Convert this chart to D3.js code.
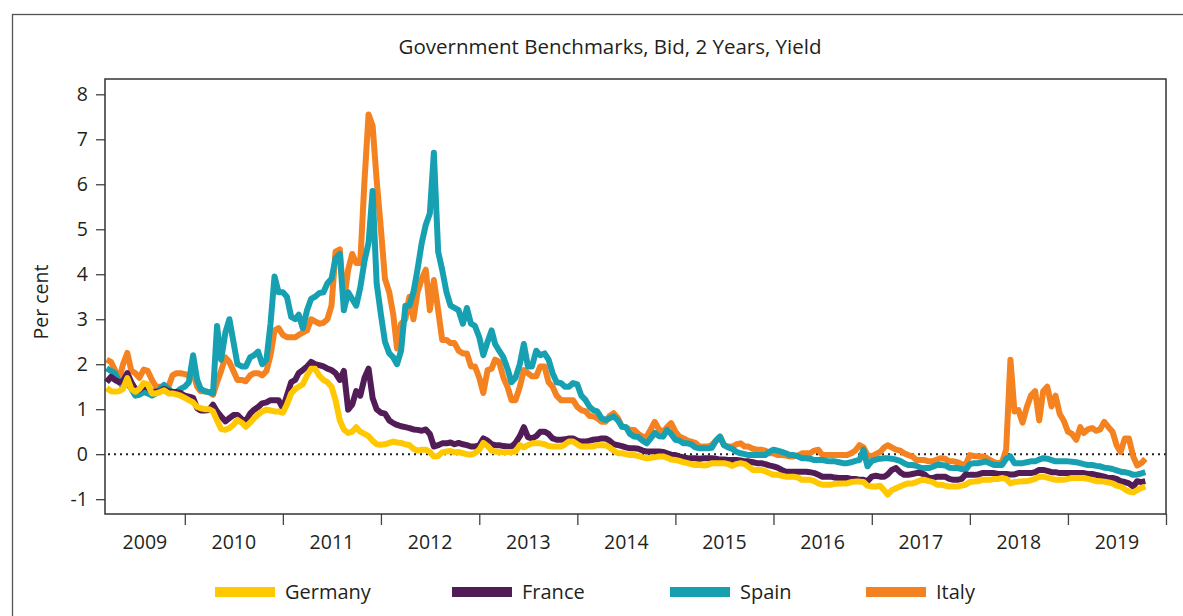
<!DOCTYPE html>
<html>
  <head>
    <meta charset="utf-8">
    <style>
      body { margin: 0; background: #fff; }
      svg text { font-family: "Open Sans", sans-serif; fill: #231f20; }
    </style>
    <script src="https://d3js.org/d3.v7.min.js"></script>
  </head>
  <body>
    <svg></svg>
    <script>
    // --- data: 2-year government benchmark yields (1st and 16th of each month) ---
    var countries = ["Germany", "France", "Spain", "Italy"];
    var colors = ["#ffc800", "#521c57", "#17a0b2", "#f58220"];
    var yearLabels = ["2009", "2010", "2011", "2012", "2013", "2014", "2015", "2016", "2017", "2018", "2019"];

    var germany = [
      1.47, 1.40, 1.39, 1.40, 1.45, 1.69, 1.45, 1.39, 1.45, 1.58, 1.55, 1.35, 1.35, 1.38, 1.42, 1.35, 1.35, 1.33, 1.30,
      1.25, 1.20, 1.15, 1.05, 1.02, 1.00, 1.00, 0.95, 0.75, 0.56, 0.54, 0.58, 0.65, 0.76, 0.70, 0.61, 0.70, 0.80, 0.88, 0.95, 0.99, 0.97, 0.95, 0.95,
      0.92, 1.10, 1.35, 1.45, 1.50, 1.55, 1.75, 1.90, 1.90, 1.75, 1.65, 1.60, 1.50, 1.20, 0.75, 0.55, 0.47, 0.50, 0.60, 0.50, 0.45, 0.40, 0.30, 0.22,
      0.21, 0.22, 0.25, 0.28, 0.26, 0.25, 0.22, 0.20, 0.12, 0.08, 0.10, 0.10, 0.05, -0.05, -0.04, 0.04, 0.06, 0.07, 0.04, 0.05, 0.02, 0.00, -0.01, 0.02,
      0.10, 0.25, 0.18, 0.08, 0.06, 0.05, 0.04, 0.05, 0.05, 0.06, 0.20, 0.15, 0.20, 0.24, 0.24, 0.24, 0.22, 0.18, 0.17, 0.17, 0.17, 0.22, 0.28, 0.28,
      0.22, 0.17, 0.17, 0.17, 0.17, 0.20, 0.20, 0.20, 0.15, 0.08, 0.02, 0.02, 0.00, -0.02, -0.02, -0.04, -0.07, -0.09, -0.08, -0.07, -0.05, -0.05, -0.08, -0.12,
      -0.13, -0.15, -0.18, -0.20, -0.22, -0.24, -0.24, -0.25, -0.24, -0.20, -0.20, -0.20, -0.20, -0.22, -0.26, -0.22, -0.20, -0.22, -0.28, -0.35, -0.35, -0.35, -0.38, -0.42,
      -0.46, -0.46, -0.48, -0.50, -0.50, -0.50, -0.52, -0.57, -0.57, -0.57, -0.60, -0.65, -0.68, -0.68, -0.68, -0.66, -0.65, -0.65, -0.65, -0.62, -0.61, -0.61, -0.62, -0.70,
      -0.72, -0.72, -0.70, -0.80, -0.90, -0.80, -0.76, -0.72, -0.68, -0.65, -0.65, -0.62, -0.58, -0.57, -0.60, -0.62, -0.68, -0.68, -0.70, -0.72, -0.72, -0.72, -0.70, -0.68,
      -0.62, -0.61, -0.60, -0.57, -0.57, -0.57, -0.55, -0.55, -0.53, -0.55, -0.65, -0.62, -0.61, -0.60, -0.60, -0.58, -0.55, -0.50, -0.50, -0.52, -0.55, -0.57, -0.57, -0.57,
      -0.55, -0.53, -0.53, -0.53, -0.53, -0.55, -0.57, -0.60, -0.60, -0.61, -0.63, -0.65, -0.70, -0.72, -0.78, -0.83, -0.85, -0.80, -0.75, -0.72
    ];

    var france = [
      1.60, 1.72, 1.65, 1.60, 1.62, 1.80, 1.60, 1.45, 1.43, 1.50, 1.48, 1.39, 1.39, 1.40, 1.45, 1.40, 1.38, 1.38, 1.36,
      1.30, 1.28, 1.25, 1.02, 0.97, 0.97, 0.98, 1.10, 0.95, 0.84, 0.73, 0.80, 0.87, 0.87, 0.78, 0.73, 0.90, 0.99, 1.05, 1.13, 1.15, 1.20, 1.20, 1.20,
      1.02, 1.30, 1.60, 1.65, 1.80, 1.87, 1.95, 2.05, 2.00, 1.98, 1.95, 1.90, 1.87, 1.80, 1.65, 1.85, 0.99, 1.10, 1.40, 1.30, 1.70, 1.90, 1.25, 1.00,
      0.92, 0.90, 0.75, 0.69, 0.65, 0.62, 0.60, 0.58, 0.55, 0.54, 0.52, 0.55, 0.45, 0.17, 0.20, 0.24, 0.24, 0.26, 0.22, 0.25, 0.22, 0.20, 0.17, 0.17,
      0.20, 0.35, 0.30, 0.22, 0.20, 0.20, 0.18, 0.17, 0.17, 0.25, 0.40, 0.60, 0.38, 0.35, 0.40, 0.50, 0.50, 0.45, 0.35, 0.32, 0.32, 0.33, 0.35, 0.35,
      0.30, 0.28, 0.28, 0.30, 0.32, 0.33, 0.35, 0.35, 0.30, 0.22, 0.20, 0.18, 0.15, 0.13, 0.13, 0.12, 0.08, 0.06, 0.06, 0.06, 0.06, 0.05, 0.02, -0.01,
      -0.02, -0.05, -0.07, -0.09, -0.09, -0.09, -0.10, -0.09, -0.09, -0.09, -0.10, -0.12, -0.12, -0.13, -0.13, -0.13, -0.14, -0.16, -0.16, -0.18, -0.20, -0.20, -0.22, -0.25,
      -0.27, -0.30, -0.35, -0.39, -0.39, -0.39, -0.39, -0.39, -0.39, -0.40, -0.42, -0.46, -0.50, -0.50, -0.50, -0.52, -0.53, -0.53, -0.53, -0.55, -0.55, -0.57, -0.57, -0.60,
      -0.50, -0.48, -0.50, -0.50, -0.45, -0.35, -0.31, -0.40, -0.46, -0.46, -0.44, -0.42, -0.42, -0.45, -0.53, -0.53, -0.50, -0.50, -0.50, -0.55, -0.57, -0.57, -0.55, -0.45,
      -0.46, -0.46, -0.45, -0.42, -0.42, -0.42, -0.42, -0.44, -0.44, -0.44, -0.45, -0.45, -0.42, -0.42, -0.42, -0.42, -0.40, -0.35, -0.35, -0.37, -0.40, -0.40, -0.42, -0.42,
      -0.42, -0.42, -0.42, -0.42, -0.42, -0.44, -0.44, -0.46, -0.48, -0.50, -0.53, -0.53, -0.55, -0.60, -0.62, -0.65, -0.72, -0.60, -0.62, -0.60
    ];

    var spain = [
      1.91, 1.85, 1.80, 1.62, 1.50, 1.60, 1.45, 1.30, 1.32, 1.38, 1.35, 1.30, 1.35, 1.45, 1.54, 1.45, 1.38, 1.38, 1.45,
      1.50, 1.60, 2.20, 1.65, 1.45, 1.40, 1.38, 1.35, 2.85, 2.10, 2.70, 3.00, 2.50, 2.00, 1.95, 1.95, 2.15, 2.20, 2.28, 2.00, 2.10, 2.90, 3.95, 3.60,
      3.60, 3.50, 3.05, 3.00, 3.10, 2.80, 3.20, 3.45, 3.50, 3.58, 3.60, 3.80, 3.90, 4.35, 4.45, 3.20, 3.60, 3.45, 3.30, 3.70, 4.30, 4.70, 5.85, 3.80,
      3.10, 2.50, 2.24, 2.15, 2.00, 2.30, 3.30, 3.30, 3.60, 4.10, 4.70, 5.10, 5.35, 6.70, 4.50, 4.10, 3.60, 3.30, 3.25, 3.20, 2.90, 3.25, 2.90, 2.85,
      2.60, 2.20, 2.50, 2.75, 2.45, 2.30, 2.15, 1.90, 1.60, 1.70, 2.00, 2.45, 1.95, 1.95, 2.30, 2.20, 2.24, 2.10, 1.80, 1.60, 1.58, 1.50, 1.50, 1.58,
      1.55, 1.30, 1.20, 1.05, 0.98, 0.95, 0.80, 0.76, 0.80, 0.84, 0.75, 0.61, 0.60, 0.45, 0.39, 0.38, 0.30, 0.24, 0.35, 0.47, 0.40, 0.39, 0.54, 0.45,
      0.32, 0.30, 0.24, 0.24, 0.22, 0.15, 0.13, 0.13, 0.13, 0.14, 0.30, 0.39, 0.20, 0.15, 0.12, 0.05, 0.02, 0.00, -0.02, -0.02, -0.02, -0.02, -0.02, 0.05,
      0.10, 0.08, 0.05, 0.02, -0.02, -0.02, -0.05, -0.09, -0.09, -0.10, -0.13, -0.13, -0.13, -0.15, -0.16, -0.16, -0.18, -0.20, -0.20, -0.18, -0.15, -0.13, 0.10, -0.27,
      -0.15, -0.12, -0.10, -0.09, -0.09, -0.10, -0.12, -0.15, -0.20, -0.24, -0.24, -0.26, -0.30, -0.31, -0.31, -0.28, -0.24, -0.24, -0.25, -0.30, -0.31, -0.31, -0.33, -0.35,
      -0.22, -0.20, -0.20, -0.18, -0.16, -0.20, -0.24, -0.24, -0.24, -0.10, -0.05, -0.20, -0.20, -0.20, -0.18, -0.16, -0.16, -0.12, -0.09, -0.10, -0.13, -0.16, -0.16, -0.16,
      -0.16, -0.17, -0.18, -0.20, -0.22, -0.24, -0.24, -0.26, -0.27, -0.30, -0.31, -0.33, -0.36, -0.39, -0.40, -0.42, -0.46, -0.45, -0.43, -0.40
    ];

    var italy = [
      2.10, 2.05, 1.87, 1.65, 2.00, 2.25, 1.85, 1.80, 1.70, 1.88, 1.85, 1.65, 1.50, 1.50, 1.50, 1.50, 1.75, 1.80, 1.80,
      1.78, 1.75, 1.80, 1.50, 1.40, 1.40, 1.38, 1.32, 1.60, 1.85, 2.15, 2.05, 1.85, 1.65, 1.65, 1.62, 1.75, 1.80, 1.80, 1.75, 1.85, 2.20, 2.75, 2.80,
      2.65, 2.60, 2.60, 2.60, 2.65, 2.70, 2.75, 3.00, 2.95, 2.90, 2.92, 3.00, 3.30, 4.50, 4.55, 3.40, 4.10, 4.45, 4.25, 4.25, 6.10, 7.55, 7.30, 6.10,
      5.00, 3.90, 3.60, 3.10, 2.35, 2.90, 3.00, 3.50, 3.00, 3.60, 3.90, 4.10, 3.20, 3.87, 3.20, 2.54, 2.54, 2.47, 2.47, 2.30, 2.24, 2.24, 1.95, 1.95,
      1.70, 1.36, 1.87, 1.90, 2.10, 2.05, 1.70, 1.50, 1.20, 1.20, 1.50, 1.87, 1.80, 1.73, 1.73, 1.95, 1.95, 1.60, 1.50, 1.30, 1.20, 1.20, 1.20, 1.20,
      1.05, 0.98, 0.95, 0.85, 0.84, 0.80, 0.72, 0.72, 0.85, 0.91, 0.80, 0.61, 0.60, 0.54, 0.54, 0.45, 0.39, 0.39, 0.55, 0.72, 0.55, 0.50, 0.60, 0.69,
      0.50, 0.39, 0.35, 0.30, 0.28, 0.25, 0.17, 0.17, 0.17, 0.20, 0.30, 0.39, 0.20, 0.17, 0.17, 0.22, 0.24, 0.17, 0.17, 0.12, 0.10, 0.10, 0.08, 0.02,
      0.02, -0.02, -0.02, -0.03, -0.05, -0.05, -0.03, 0.02, 0.02, 0.02, 0.08, 0.10, -0.02, -0.02, -0.02, -0.02, -0.02, -0.02, -0.02, 0.02, 0.08, 0.20, 0.15, -0.02,
      -0.05, 0.00, 0.05, 0.15, 0.20, 0.15, 0.10, 0.08, 0.02, -0.02, -0.05, -0.13, -0.13, -0.13, -0.16, -0.16, -0.12, -0.09, -0.10, -0.16, -0.16, -0.18, -0.22, -0.24,
      -0.02, -0.04, -0.05, -0.05, -0.07, -0.13, -0.18, -0.20, -0.18, 0.10, 2.10, 0.95, 0.98, 0.70, 1.05, 1.30, 1.40, 0.75, 1.40, 1.50, 1.06, 1.30, 0.90, 0.75,
      0.50, 0.45, 0.32, 0.60, 0.47, 0.55, 0.58, 0.52, 0.55, 0.72, 0.60, 0.50, 0.20, 0.05, 0.35, 0.35, -0.05, -0.25, -0.20, -0.10
    ];

    // sample dates: 16 Mar 2009, then the 1st and 16th of every month to Oct 2019
    var dates = [new Date(2009, 2, 16)];
    d3.timeMonth.range(new Date(2009, 3, 1), new Date(2019, 10, 1)).forEach(function(m) {
        dates.push(m);
        dates.push(new Date(m.getFullYear(), m.getMonth(), 16));
    });

    var width = 1183;
    var height = 616;

    var svg = d3.select("svg")
        .attr("width", width)
        .attr("height", height);

    // outer frame (runs off the right and bottom edge)
    svg.append("rect")
        .attr("x", 12.5)
        .attr("y", 14.5)
        .attr("width", 1200)
        .attr("height", 640)
        .attr("fill", "none")
        .attr("stroke", "#555")
        .attr("stroke-width", 1.3);

    var x = d3.scaleTime()
        .domain([new Date(2009, 2, 10), new Date(2020, 0, 1)])
        .range([105, 1166]);

    var y = d3.scaleLinear()
        .domain([-1.33, 8.34])
        .range([514, 79]);

    svg.append("text")
        .attr("x", 610)
        .attr("y", 54)
        .attr("text-anchor", "middle")
        .style("font-size", "20.5px")
        .text("Government Benchmarks, Bid, 2 Years, Yield");

    // y axis
    var yAxis = svg.append("g")
        .attr("transform", "translate(105,0)")
        .call(d3.axisLeft(y)
            .tickValues(d3.range(-1, 9))
            .tickSize(9)
            .tickPadding(8)
            .tickSizeOuter(0)
            .tickFormat(function(d) { return String(d); }));
    yAxis.select(".domain").remove();
    yAxis.selectAll(".tick line").attr("stroke", "#444").attr("stroke-width", 1.3);
    yAxis.selectAll(".tick text").style("font-size", "19.5px").style("font-family", "Open Sans");

    svg.append("text")
        .attr("transform", "translate(48,302) rotate(-90)")
        .attr("text-anchor", "middle")
        .style("font-size", "19.5px")
        .text("Per cent");

    // x axis: ticks at year boundaries, labels centred in each year
    var yearStarts = yearLabels.slice(1).map(function(d) { return new Date(+d, 0, 1); });
    yearStarts.push(new Date(2020, 0, 1));

    var xAxis = svg.append("g")
        .attr("transform", "translate(0,514)")
        .call(d3.axisBottom(x)
            .tickValues(yearStarts)
            .tickSize(11)
            .tickFormat(""));
    xAxis.select(".domain").remove();
    xAxis.selectAll(".tick line").attr("stroke", "#444").attr("stroke-width", 1.3);

    svg.append("g")
        .selectAll("text")
        .data(yearLabels)
        .enter().append("text")
        .attr("x", function(d) {
            var a = Math.max(x(new Date(+d, 0, 1)), x.range()[0]);
            var b = x(new Date(+d + 1, 0, 1));
            return (a + b) / 2;
        })
        .attr("y", 549)
        .attr("text-anchor", "middle")
        .style("font-size", "19.5px")
        .text(function(d) { return d; });

    // zero line
    svg.append("line")
        .attr("x1", x.range()[0] + 3)
        .attr("x2", x.range()[1])
        .attr("y1", y(0))
        .attr("y2", y(0))
        .attr("stroke", "#222")
        .attr("stroke-width", 2)
        .attr("stroke-dasharray", "2,4");

    // series, Italy drawn first so Germany sits on top
    var series = countries.map(function(name, i) {
        return { name: name, color: colors[i], values: [germany, france, spain, italy][i] };
    });

    var line = d3.line()
        .x(function(d, i) { return x(dates[i]); })
        .y(function(d) { return y(d); });

    svg.append("g")
        .selectAll("path")
        .data(series.slice().reverse())
        .enter().append("path")
        .attr("fill", "none")
        .attr("stroke", function(d) { return d.color; })
        .attr("stroke-width", 6)
        .attr("stroke-linejoin", "round")
        .attr("d", function(d) { return line(d.values); });

    // plot frame
    svg.append("rect")
        .attr("x", 105)
        .attr("y", 79)
        .attr("width", 1061)
        .attr("height", 435)
        .attr("fill", "none")
        .attr("stroke", "#333")
        .attr("stroke-width", 1.5);

    // legend
    var legendX = [215, 452, 670, 866];
    var legend = svg.append("g")
        .selectAll("g")
        .data(series)
        .enter().append("g")
        .attr("transform", function(d, i) { return "translate(" + legendX[i] + ",592)"; });

    legend.append("rect")
        .attr("x", 0)
        .attr("y", -5)
        .attr("width", 60)
        .attr("height", 10)
        .attr("fill", function(d) { return d.color; });

    legend.append("text")
        .attr("x", 70)
        .attr("y", 7)
        .style("font-size", "20px")
        .text(function(d) { return d.name; });
    </script>
  </body>
</html>
